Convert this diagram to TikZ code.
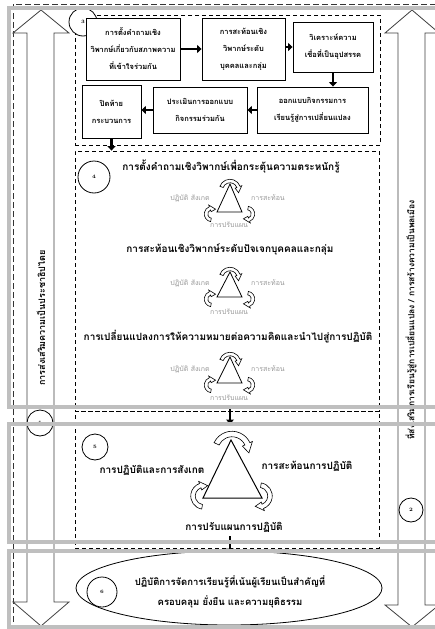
\documentclass[tikz,border=0pt]{standalone}
\usepackage{fontspec}
\newfontfamily\thai[Script=Thai]{Loma}
\usetikzlibrary{arrows.meta,calc,shapes.geometric}
\newcommand\carr[6]{%
  \pgfmathsetmacro\carI{#3-#6/2}%
  \pgfmathsetmacro\carO{#3+#6/2}%
  \pgfmathsetmacro\carHI{#3-#6}%
  \pgfmathsetmacro\carHO{#3+#6}%
  \pgfmathsetmacro\carT{#5+((#5>#4)*2-1)*deg(1.7*#6/#3)}%
  \draw[carrow] (#1,#2) ++(#4:\carO) arc[start angle=#4,end angle=#5,radius=\carO]
    -- ($(#1,#2)+(#5:\carHO)$) -- ($(#1,#2)+(\carT:#3)$) -- ($(#1,#2)+(#5:\carHI)$)
    -- ($(#1,#2)+(#5:\carI)$) arc[start angle=#5,end angle=#4,radius=\carI] -- cycle;}
\newcommand\smalltri[2]{% apex y, base y
  \draw[tri] (230,#1) -- (242,#2) -- (217,#2) -- cycle;
  \carr{230}{#1+6}{9}{200}{340}{3.5}
  \carr{212}{#2+2}{6}{100}{250}{3.5}
  \carr{247}{#2+2}{6}{-80}{70}{3.5}}
\begin{document}
\begin{tikzpicture}[x=1pt,y=-1pt,
  pbox/.style={draw,line width=0.9pt,fill=white,align=center,inner sep=0pt,font=\thai\bfseries\fontsize{7.5}{17}\selectfont},
  dbox/.style={draw,line width=0.8pt,dash pattern=on 4pt off 3pt,inner sep=0pt},
  band/.style={draw=black!25,line width=4pt},
  outer/.style={draw=black!80,line width=0.8pt,dash pattern=on 6pt off 3pt},
  blk/.style={line width=2.6pt,-{Triangle[length=4.5pt,width=8pt]}},
  bigarr/.style={draw=black!75,line width=0.8pt,fill=white},
  numc/.style={circle,draw,line width=0.8pt,fill=white,inner sep=0pt,font=\bfseries\fontsize{5}{5}\selectfont},
  head/.style={font=\thai\bfseries\fontsize{10}{10}\selectfont,inner sep=0pt},
  glab/.style={font=\thai\fontsize{7}{7}\selectfont,text=black!40,inner sep=0pt},
  vlab/.style={font=\thai\bfseries\fontsize{8.5}{8.5}\selectfont,rotate=90,inner sep=0pt},
  carrow/.style={draw,line width=0.6pt,fill=white},
  tri/.style={draw,line width=0.8pt}]
\useasboundingbox (0,0) rectangle (435,629);
\clip (0,0) rectangle (435,629);
\fill[white] (0,0) rectangle (435,629);
% outer dashed
\draw[outer] (13,640) -- (13,4) -- (445,4);
% big double arrows
\draw[bigarr] (41,10) -- (69,33) -- (54,33) -- (54,602) -- (69,602) -- (41,626) -- (13,602) -- (27,602) -- (27,33) -- (13,33) -- cycle;
\draw[bigarr] (412,10) -- (439,33) -- (425,33) -- (425,605) -- (439,605) -- (412,627) -- (385,605) -- (398,605) -- (398,33) -- (385,33) -- cycle;
\node[vlab,font=\thai\bfseries\fontsize{9}{9}\selectfont] (lt) at (41,318) {การส่งเสริมความเป็นประชาธิปไตย};
\node[vlab] (rt) at (411,320) {ที่ส่งเสริมการเรียนรู้สู่การเปลี่ยนแปลง / การสร้างความเป็นพลเมือง};
\node[numc,minimum size=26pt] (n1) at (40,423) {1};
\node[numc,minimum size=24pt] (n2) at (411,510) {2};
% section 3
\node[dbox,minimum width=305pt,minimum height=130pt] (s3) at (227.5,80) {};
\node[numc,minimum size=28pt] (n3) at (83,22) {3};
\node[pbox,minimum width=94pt,minimum height=62pt] (b1) at (133,49) {การตั้งคำถามเชิง\\วิพากษ์เกี่ยวกับสภาพความ\\ที่เข้าใจร่วมกัน};
\node[pbox,minimum width=83pt,minimum height=62pt] (b2) at (243.5,49) {การสะท้อนเชิง\\วิพากษ์ระดับ\\บุคคลและกลุ่ม};
\node[pbox,minimum width=80pt,minimum height=50pt] (b3) at (333,47) {วิเคราะห์ความ\\เชื่อที่เป็นอุปสรรค};
\node[pbox,minimum width=59pt,minimum height=53pt] (b4) at (111.5,111.5) {ปิดท้าย\\กระบวนการ};
\node[pbox,minimum width=94pt,minimum height=46pt] (b5) at (200,110) {ประเมินการออกแบบ\\กิจกรรมร่วมกัน};
\node[pbox,minimum width=111pt,minimum height=46pt] (b6) at (312.5,110) {ออกแบบกิจกรรมการ\\เรียนรู้สู่การเปลี่ยนแปลง};
\draw[blk] (b1.east) -- (b2.west);
\draw[blk] (b2.east |- b3.west) -- (b3.west);
\draw[blk] (b3.south) -- (b3.south |- b6.north);
\draw[blk] (b6.west) -- (b5.east);
\draw[blk] (b5.west) -- (b5.west -| b4.east);
% section 4
\node[dbox,minimum width=304pt,minimum height=260pt] (s4) at (227,281) {};
\draw[blk] (b4.south) -- (b4.south |- s4.north);
\node[numc,minimum size=32pt] (n4) at (94,177) {4};
\node[head] (h1) at (231,167) {การตั้งคำถามเชิงวิพากษ์เพื่อกระตุ้นความตระหนักรู้};
\smalltri{184}{212}
\node[glab] (g1a) at (190,198) {ปฏิบัติ สังเกต};
\node[glab] (g1b) at (268,198) {การสะท้อน};
\node[glab] (g1c) at (229,225) {การปรับแผน};
\node[head] (h2) at (230,249) {การสะท้อนเชิงวิพากษ์ระดับปัจเจกบุคคลและกลุ่ม};
\smalltri{272}{297}
\node[glab] (g2a) at (190,283) {ปฏิบัติ สังเกต};
\node[glab] (g2b) at (268,283) {การสะท้อน};
\node[glab] (g2c) at (229,312) {การปรับแผน};
\node[head] (h3) at (228,337) {การเปลี่ยนแปลงการให้ความหมายต่อความคิดและนำไปสู่การปฏิบัติ};
\smalltri{357}{383}
\node[glab] (g3a) at (190,369) {ปฏิบัติ สังเกต};
\node[glab] (g3b) at (268,369) {การสะท้อน};
\node[glab] (g3c) at (229,398) {การปรับแผน};
% section 5
\node[dbox,minimum width=304pt,minimum height=137pt] (s5) at (227,479.5) {};
\coordinate (a45s) at (230,407);
\coordinate (a45e) at (230,424);
\draw[blk] (a45s) -- (a45e);
\node[numc,minimum size=26pt] (n5) at (95,447) {5};
\draw[tri,line width=1pt] (231,440) -- (262,498) -- (203,498) -- cycle;
\carr{232}{451}{17}{205}{335}{5.5}
\carr{204}{496}{11}{100}{250}{4.5}
\carr{259}{496}{11}{-80}{70}{4.5}
\node[head] (p1) at (152,470) {การปฏิบัติและการสังเกต};
\node[head] (p2) at (307,466) {การสะท้อนการปฏิบัติ};
\node[head] (p3) at (234,527) {การปรับแผนการปฏิบัติ};
% section 6
\coordinate (a56s) at (230,536);
\coordinate (a56e) at (230,553);
\draw[blk] (a56s) -- (a56e);
\node[draw,ellipse,line width=0.8pt,fill=white,minimum width=306pt,minimum height=74pt] (s6) at (229,588) {};
\node[numc,minimum size=30pt] (n6) at (102,592) {6};
\node[pbox,draw=none,fill=none,font=\thai\bfseries\fontsize{9.5}{20}\selectfont] (t6) at (230,592) {ปฏิบัติการจัดการเรียนรู้ที่เน้นผู้เรียนเป็นสำคัญที่\\ครอบคลุม ยั่งยืน และความยุติธรรม};
% gray frames on top
\draw[band] (9,8) rectangle (450,407);
\draw[band] (9,424) rectangle (450,542);
\draw[band] (9,551) rectangle (450,627);
\end{tikzpicture}
\end{document}
